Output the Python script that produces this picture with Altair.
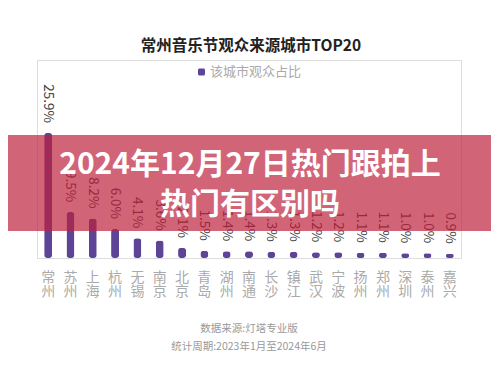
import altair as alt
import pandas as pd

cities = ["常州", "苏州", "上海", "杭州", "无锡", "南京", "北京", "青岛", "湖州", "南通",
          "长沙", "镇江", "武汉", "宁波", "扬州", "郑州", "深圳", "泰州", "嘉兴"]
shares = [25.9, 9.5, 8.2, 6.0, 4.1, 3.6, 2.1, 1.5, 1.4, 1.4,
          1.3, 1.3, 1.2, 1.2, 1.1, 1.1, 1.0, 1.0, 0.9]
labels = [f"{v:.1f}%" for v in shares]

chart_title = "常州音乐节观众来源城市TOP20"
legend_label = "该城市观众占比"
banner_lines = ["2024年12月27日热门跟拍上", "热门有区别吗"]
footer_lines = ["数据来源:灯塔专业版", "统计周期:2023年1月至2024年6月"]

FONT = "Noto Sans CJK SC"
PURPLE = "#5E4497"

df = pd.DataFrame({"city": cities, "share": shares, "label": labels})

x_enc = alt.X("city:N", sort=cities, title=None,
              scale=alt.Scale(paddingInner=0.6, paddingOuter=0.3),
              axis=alt.Axis(labelAngle=0, labelExpr="split(datum.label, '')",
                            labelFontSize=14, labelColor="#aaaaaa", labelLineHeight=14,
                            labelPadding=12, ticks=False, domainColor="#dddddd",
                            labelFont=FONT))
y_enc = alt.Y("share:Q", axis=None, scale=alt.Scale(domain=[0, 41], nice=False))

base = alt.Chart(df)
bars = base.mark_bar(size=8, color=PURPLE, cornerRadius=3).encode(x=x_enc, y=y_enc)
vals = base.mark_text(angle=90, align="right", baseline="middle", dx=-10,
                      fontSize=13.5, color="#444444", font=FONT).encode(
    x=x_enc, y=y_enc, text="label:N")

title = alt.Chart(pd.DataFrame({"t": [chart_title]})).mark_text(
    fontSize=15.5, fontWeight="bold", color="#222222", font=FONT, align="center",
    baseline="middle").encode(text="t:N", x=alt.value(214), y=alt.value(-14))

leg_sq = alt.Chart(pd.DataFrame({"t": [legend_label]})).mark_rect(
    color=PURPLE, cornerRadius=1.5).encode(
    x=alt.value(161), x2=alt.value(168), y=alt.value(8.5), y2=alt.value(15.5))
leg_txt = alt.Chart(pd.DataFrame({"t": [legend_label]})).mark_text(
    fontSize=13, color="#aaaaaa", font=FONT, align="left", baseline="middle").encode(
    text="t:N", x=alt.value(173), y=alt.value(12))

banner = alt.Chart(pd.DataFrame({"t": [1]})).mark_rect(
    color="#BE1E3B", opacity=0.69).encode(
    x=alt.value(-37), x2=alt.value(462), y=alt.value(75), y2=alt.value(171))

ban1 = alt.Chart(pd.DataFrame({"t": [banner_lines[0]]})).mark_text(
    fontSize=30, fontWeight="bold", color="white", font=FONT, align="center",
    baseline="middle").encode(text="t:N", x=alt.value(213), y=alt.value(105))
ban2 = alt.Chart(pd.DataFrame({"t": [banner_lines[1]]})).mark_text(
    fontSize=30, fontWeight="bold", color="white", font=FONT, align="center",
    baseline="middle").encode(text="t:N", x=alt.value(213), y=alt.value(145))

foot1 = alt.Chart(pd.DataFrame({"t": [footer_lines[0]]})).mark_text(
    fontSize=10.5, color="#999999", font=FONT, align="center", baseline="middle").encode(
    text="t:N", x=alt.value(212), y=alt.value(269))
foot2 = alt.Chart(pd.DataFrame({"t": [footer_lines[1]]})).mark_text(
    fontSize=10.5, color="#999999", font=FONT, align="center", baseline="middle").encode(
    text="t:N", x=alt.value(212), y=alt.value(287))

chart = alt.layer(bars, vals, title, leg_sq, leg_txt, banner, ban1, ban2, foot1, foot2).properties(
    width=424, height=198,
    autosize=alt.AutoSizeParams(type="none"),
    padding={"left": 29, "top": 52, "right": 30, "bottom": 100},
    background="white",
).configure_view(stroke=None).configure(font=FONT)

chart.save("out.html", embed_options={"renderer": "svg", "actions": False})
